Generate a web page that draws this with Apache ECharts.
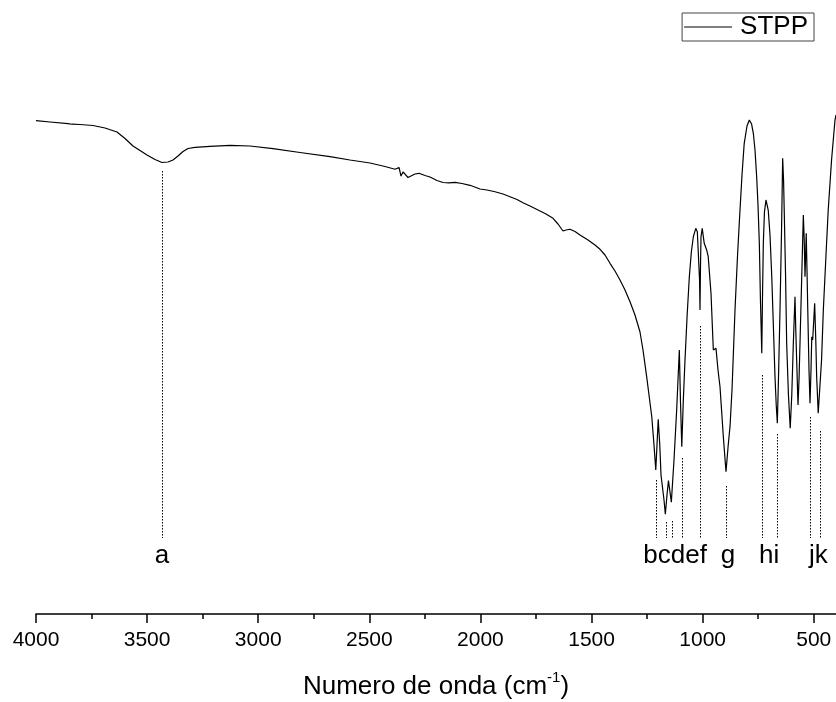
<!DOCTYPE html>
<html>
<head>
<meta charset="utf-8">
<script src="https://cdn.jsdelivr.net/npm/echarts@6/dist/echarts.min.js"></script>
<style>
html,body{margin:0;padding:0;background:#fff;}
#chart{width:836px;height:702px;}
</style>
</head>
<body>
<div id="chart"></div>
<script>
// Wavenumber (cm-1) of each sample point
const wavenumbers = [
  4000, 3937, 3856, 3847, 3838, 3802, 3743.5, 3734.5, 3689.5, 3635.5,
  3599.5, 3563.5, 3532, 3500.5, 3464.5, 3433, 3406, 3383.5, 3361, 3338.5,
  3316, 3284.5, 3217, 3127, 3037, 2933.5, 2812, 2677, 2587, 2497,
  2429.5, 2384.5, 2375.5, 2366.5, 2357.5, 2348.5, 2339.5, 2326, 2312.5, 2294.5,
  2276.5, 2249.5, 2227, 2195.5, 2168.5, 2141.5, 2114.5, 2083, 2047, 2002,
  1970.5, 1934.5, 1898.5, 1867, 1835.5, 1808.5, 1777, 1741, 1705, 1673.5,
  1651, 1628.5, 1615, 1597, 1574.5, 1552, 1516, 1484.5, 1462, 1439.5,
  1417, 1394.5, 1372, 1349.5, 1327, 1304.5, 1282, 1268.5, 1252, 1241.5,
  1229, 1219, 1211, 1205.5, 1200, 1193, 1187.5, 1180, 1174, 1168,
  1160.5, 1154, 1147, 1141, 1129, 1117, 1105, 1100, 1094, 1087,
  1079.5, 1070.5, 1060, 1051, 1042, 1031, 1024, 1018, 1014, 1012,
  1010, 1007.5, 1002, 993, 982, 975, 962.5, 952, 947, 940,
  931, 922, 907, 895, 885, 877, 868, 854.5, 843, 832,
  823, 813, 800.5, 790, 780, 772, 764.5, 757, 751, 745,
  740, 734, 731, 727, 722, 715, 705, 697, 689, 682,
  674.5, 669, 664, 659, 652, 645, 640, 636, 633, 627,
  622, 614, 606, 599, 592, 584.5, 581, 577, 571, 566.5,
  562, 554, 547, 543, 539.5, 536, 534, 530.5, 527, 521.5,
  517, 512.5, 509, 505, 500, 496, 491, 487, 480, 473,
  465, 457, 445, 435, 420, 404.5, 400
];
// Transmittance (arbitrary units) at each wavenumber above
const transmittance = [
  82.22, 82.0, 81.72, 81.92, 81.63, 81.58, 81.42, 81.2, 81.0, 80.33,
  79.25, 78.0, 77.25, 76.5, 75.75, 75.25, 75.33, 75.67, 76.33, 77.08,
  77.58, 77.78, 77.95, 78.12, 78.0, 77.55, 76.92, 76.22, 75.67, 75.17,
  74.58, 74.12, 74.33, 74.42, 73.0, 73.67, 73.33, 72.75, 73.0, 73.33,
  73.45, 73.08, 72.83, 72.25, 71.92, 71.87, 71.95, 71.75, 71.45, 70.83,
  70.67, 70.38, 70.0, 69.55, 69.08, 68.55, 68.0, 67.33, 66.67, 65.95,
  65.0, 63.83, 64.0, 64.12, 63.75, 63.17, 62.33, 61.5, 60.78, 59.83,
  58.45, 57.17, 55.67, 54.0, 52.05, 49.83, 47.0, 44.0, 39.55, 36.5,
  32.88, 28.17, 24.0, 28.17, 32.45, 28.17, 23.17, 23.05, 19.0, 16.62,
  19.83, 22.22, 20.33, 18.62, 25.67, 34.0, 44.0, 35.67, 27.88, 35.67,
  42.33, 49.33, 56.22, 60.33, 62.88, 64.28, 63.72, 63.55, 55.67, 50.67,
  57.33, 62.88, 64.28, 61.78, 60.67, 59.55, 53.45, 44.0, 44.33, 44.28,
  40.67, 37.88, 29.55, 23.72, 28.17, 31.22, 37.33, 50.67, 59.83, 67.33,
  73.17, 78.45, 81.33, 82.33, 81.67, 80.12, 77.33, 72.88, 68.17, 61.78,
  52.33, 43.45, 52.33, 61.78, 67.0, 69.0, 67.33, 63.17, 56.22, 48.17,
  39.55, 34.83, 31.78, 39.0, 50.67, 64.0, 75.95, 72.33, 67.33, 56.5,
  45.12, 36.5, 30.95, 36.5, 45.12, 52.88, 47.33, 42.33, 34.83, 39.0,
  45.12, 56.5, 66.5, 62.33, 56.22, 60.67, 63.45, 57.33, 50.67, 40.67,
  35.12, 40.67, 46.22, 45.67, 49.0, 51.78, 45.67, 39.55, 33.45, 33.72,
  42.33, 50.67, 59.83, 67.33, 75.67, 82.33, 83.17
];

// Assigned bands: wavenumber and upper end of each dotted guide line
const peakNames = ['a', 'b', 'c', 'd', 'e', 'f', 'g', 'h', 'i', 'j', 'k'];
const peakWavenumbers = [3433, 1210, 1166, 1139, 1093, 1011, 892, 734, 666, 517, 473];
const peakLineTop = [73.83, 22.33, 15.33, 15.5, 26.0, 48.0, 21.33, 39.83, 30.0, 32.83, 30.5];
const peakLineBottom = 12.67;

// Band letters as printed under the guide lines
const labelTexts = ['a', 'bcdef', 'g', 'hi', 'jk'];
const labelWavenumbers = [3433, 1124, 886, 701, 479];
const labelLevel = 9.7;

// Axis ticks
const majorTicks = [4000, 3500, 3000, 2500, 2000, 1500, 1000, 500];
const minorTicks = [3750, 3250, 2750, 2250, 1750, 1250, 750];

const FONT = "'Liberation Sans', Arial, Helvetica, sans-serif";

const seriesData = wavenumbers.map((w, i) => [w, transmittance[i]]);
const guideLines = peakWavenumbers.map((w, i) => [
  { coord: [w, peakLineTop[i]] },
  { coord: [w, peakLineBottom] }
]);
const labelData = labelWavenumbers.map((w, i) => ({ value: [w, labelLevel], name: labelTexts[i] }));

const chart = echarts.init(document.getElementById('chart'), null, { renderer: 'canvas' });
chart.setOption({
  animation: false,
  backgroundColor: '#fff',
  grid: { left: 36, right: 0, top: 14, bottom: 88, containLabel: false, outerBoundsMode: 'none' },
  legend: {
    data: ['STPP'],
    right: 22,
    top: 13,
    orient: 'horizontal',
    icon: 'rect',
    borderColor: '#444',
    borderWidth: 1,
    borderRadius: 0,
    padding: [1, 6, 1, 2],
    itemWidth: 48,
    itemHeight: 1.2,
    itemStyle: { color: '#000' },
    textStyle: { fontSize: 26, color: '#000', fontFamily: FONT, lineHeight: 24, padding: [0, 0, 0, 3] }
  },
  xAxis: [
    {
      type: 'value',
      inverse: true,
      min: 400,
      max: 4000,
      position: 'bottom',
      splitLine: { show: false },
      axisLine: { show: true, lineStyle: { color: '#000', width: 1.5 } },
      axisTick: { show: true, customValues: majorTicks, length: 9, inside: false, lineStyle: { color: '#000', width: 1.5 } },
      axisLabel: { show: true, customValues: majorTicks, formatter: v => String(v), fontSize: 21, color: '#000', fontFamily: FONT, margin: 16 },
      name: 'Numero de onda (cm{sup|-1})',
      nameLocation: 'middle',
      nameGap: 56,
      nameTextStyle: {
        fontSize: 26, color: '#000', fontFamily: FONT, lineHeight: 34,
        rich: { sup: { fontSize: 15, fontFamily: FONT, color: '#000', verticalAlign: 'top', lineHeight: 15 } }
      }
    },
    {
      type: 'value',
      inverse: true,
      min: 400,
      max: 4000,
      position: 'bottom',
      splitLine: { show: false },
      axisLine: { show: false },
      axisTick: { show: true, customValues: minorTicks, length: 5, lineStyle: { color: '#000', width: 1.5 } },
      axisLabel: { show: false }
    }
  ],
  yAxis: { type: 'value', min: 0, max: 100, show: false, splitLine: { show: false } },
  series: [
    {
      name: 'STPP',
      type: 'line',
      xAxisIndex: 0,
      data: seriesData,
      symbol: 'none',
      smooth: false,
      lineStyle: { color: '#000', width: 1.2 },
      itemStyle: { color: '#000' },
      markLine: {
        silent: true,
        symbol: ['none', 'none'],
        label: { show: false },
        lineStyle: { color: '#000', width: 1, type: [1.5, 1.5] },
        data: guideLines
      }
    },
    {
      name: 'bands',
      type: 'scatter',
      xAxisIndex: 0,
      data: labelData,
      symbolSize: 0,
      silent: true,
      itemStyle: { opacity: 1, color: '#000' },
      label: {
        show: true,
        position: 'inside',
        formatter: p => p.name,
        fontSize: 26,
        color: '#000',
        opacity: 1,
        textBorderWidth: 0,
        fontFamily: FONT
      }
    }
  ]
});
</script>
</body>
</html>
